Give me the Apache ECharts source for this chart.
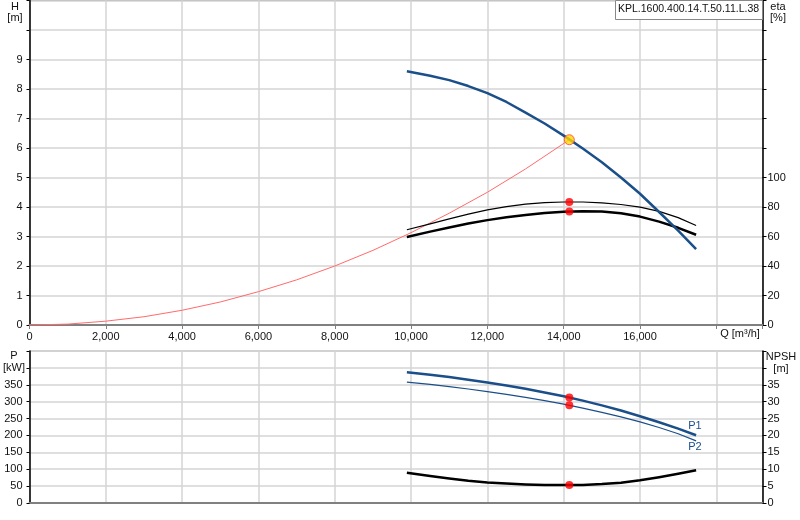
<!DOCTYPE html>
<html><head><meta charset="utf-8">
<script src="https://cdn.jsdelivr.net/npm/echarts@6/dist/echarts.min.js"></script>
<style>html,body{margin:0;padding:0;background:#fff}#c{width:800px;height:520px}</style>
</head><body><div id="c"></div>
<script>
// ---- data ----
const headCurve = [[9890,8.60],[10500,8.45],[11000,8.30],[11500,8.10],[12000,7.86],[12500,7.56],[13000,7.20],[13500,6.83],[14000,6.42],[14500,5.98],[15000,5.52],[15500,5.00],[16000,4.45],[16500,3.83],[17000,3.20],[17470,2.57]];
const systemCurve = [[0,0],[1000,0.03],[2000,0.13],[3000,0.28],[4000,0.50],[5000,0.78],[6000,1.13],[7000,1.53],[8000,2.00],[9000,2.53],[10000,3.13],[11000,3.79],[12000,4.50],[13000,5.29],[14147,6.28]];
const etaUpper = [[9890,64.6],[10500,68.6],[11000,72.0],[11500,75.2],[12000,78.0],[12500,80.3],[13000,82.0],[13500,83.0],[14000,83.4],[14500,83.4],[15000,82.8],[15500,81.7],[16000,79.9],[16500,77.0],[17000,72.8],[17470,67.5]];
const etaLower = [[9890,59.6],[10500,63.3],[11000,66.1],[11500,68.8],[12000,71.1],[12500,73.0],[13000,74.6],[13500,75.9],[14000,76.8],[14500,77.2],[15000,77.0],[15500,75.8],[16000,73.5],[16500,70.1],[17000,65.9],[17470,61.2]];
const p1Curve = [[9890,387],[10500,380],[11000,373],[11500,365],[12000,357],[12500,348],[13000,338],[13500,327],[14000,316],[14500,303],[15000,289],[15500,274],[16000,257],[16500,239],[17000,220],[17470,200.5]];
const p2Curve = [[9890,357.6],[10500,351],[11000,344.5],[11500,337.5],[12000,330],[12500,321.5],[13000,312.5],[13500,303],[14000,292.5],[14500,281],[15000,268.5],[15500,255],[16000,240],[16500,223.5],[17000,205],[17470,184]];
const npshCurve = [[9890,8.93],[10500,8.0],[11000,7.25],[11500,6.6],[12000,6.1],[12500,5.75],[13000,5.5],[13500,5.35],[14000,5.3],[14500,5.35],[15000,5.6],[15500,6.0],[16000,6.75],[16500,7.65],[17000,8.65],[17470,9.7]];
const dutyPoint = [[14147,6.28]];
const etaPoints = [[14147,83.4],[14147,77.0]];
const pPoints = [[14147,312.2],[14147,289.2]];
const npshPoints = [[14147,5.3]];
const pumpName = 'KPL.1600.400.14.T.50.11.L.38';
const qTicksMax = 16000;

const chart = echarts.init(document.getElementById('c'));
const FONT = 'Liberation Sans, Arial, sans-serif';
const txt = {fontFamily: FONT, fontSize: 11, color: '#111'};
const blue = '#1a4f8a';
const gridLine = {show: true, lineStyle: {color: '#d4d4d4', width: 1.5}};
const fmtQ = v => (v % 2000 === 0 && v <= qTicksMax) ? v.toLocaleString('en-US') : '';

const xBase = {
  type: 'value', min: 0, max: 19210, interval: 2000,
  axisLine: {show: true, onZero: false, lineStyle: {color: '#808080', width: 2}},
  axisTick: {show: true, length: 4, lineStyle: {color: '#808080'}},
  splitLine: gridLine
};
const yLeft = (max, interval, lim, gi) => ({
  type: 'value', gridIndex: gi, position: 'left', min: 0, max: max, interval: interval,
  axisLine: {show: true, onZero: false, lineStyle: {color: '#000', width: 1.5}},
  axisTick: {show: true, length: 3, lineStyle: {color: '#000'}},
  axisLabel: Object.assign({margin: 7, formatter: v => v <= lim ? String(v) : ''}, txt),
  splitLine: gridLine
});
const yRight = (max, interval, lim, gi) => ({
  type: 'value', gridIndex: gi, position: 'right', min: 0, max: max, interval: interval,
  axisLine: {show: true, onZero: false, lineStyle: {color: '#000', width: 1.5}},
  axisTick: {show: true, length: 4, lineStyle: {color: '#000'}},
  axisLabel: Object.assign({margin: 5, formatter: v => v <= lim ? String(v) : ''}, txt),
  splitLine: {show: false}
});
const line = (data, xi, yi, color, width, z) => ({
  type: 'line', data: data, xAxisIndex: xi, yAxisIndex: yi, showSymbol: false,
  smooth: false, silent: true, z: z || 3,
  lineStyle: {color: color, width: width, join: 'round', cap: 'butt'}
});
const dots = (data, xi, yi) => ({
  type: 'scatter', data: data, xAxisIndex: xi, yAxisIndex: yi, symbolSize: 8, z: 10,
  itemStyle: {color: '#ff0000'}, silent: true
});

chart.setOption({
  animation: false,
  textStyle: {fontFamily: FONT},
  grid: [
    {left: 29.5, right: 37.5, top: 0.5, height: 324.5, show: true, borderColor: '#999', borderWidth: 1},
    {left: 29.5, right: 37.5, top: 351, height: 152, show: true, borderColor: '#999', borderWidth: 1}
  ],
  xAxis: [
    Object.assign({}, xBase, {gridIndex: 0, axisLabel: Object.assign({margin: 6, formatter: fmtQ}, txt)}),
    Object.assign({}, xBase, {gridIndex: 1, axisTick: {show: false}, axisLabel: {show: false}})
  ],
  yAxis: [
    yLeft(11, 1, 9, 0),
    yRight(220, 20, 100, 0),
    yLeft(450, 50, 350, 1),
    yRight(45, 5, 35, 1)
  ],
  series: [
    line(systemCurve, 0, 0, '#ff6b6b', 1, 2),
    line(headCurve, 0, 0, blue, 2.5, 4),
    line(etaUpper, 0, 1, '#000', 1.2, 3),
    line(etaLower, 0, 1, '#000', 2.5, 3),
    dots(etaPoints, 0, 1),
    {type: 'scatter', data: dutyPoint, xAxisIndex: 0, yAxisIndex: 0, symbolSize: 10, z: 11, silent: true,
     itemStyle: {color: '#ffd700', borderColor: '#ff4040', borderWidth: 1}},
    line(p1Curve, 1, 2, blue, 2.5, 4),
    line(p2Curve, 1, 2, blue, 1.2, 4),
    line(npshCurve, 1, 3, '#000', 2.5, 3),
    dots(pPoints, 1, 2),
    dots(npshPoints, 1, 3)
  ],
  graphic: [
    {type: 'text', x: 15, y: 1, style: {text: 'H', font: '11px ' + FONT, fill: '#111', textAlign: 'center'}},
    {type: 'text', x: 15, y: 12, style: {text: '[m]', font: '11px ' + FONT, fill: '#111', textAlign: 'center'}},
    {type: 'text', x: 778, y: 1, style: {text: 'eta', font: '11px ' + FONT, fill: '#111', textAlign: 'center'}},
    {type: 'text', x: 778, y: 12, style: {text: '[%]', font: '11px ' + FONT, fill: '#111', textAlign: 'center'}},
    {type: 'text', x: 14, y: 350, style: {text: 'P', font: '11px ' + FONT, fill: '#111', textAlign: 'center'}},
    {type: 'text', x: 14, y: 362, style: {text: '[kW]', font: '11px ' + FONT, fill: '#111', textAlign: 'center'}},
    {type: 'text', x: 781, y: 351, style: {text: 'NPSH', font: '11px ' + FONT, fill: '#111', textAlign: 'center'}},
    {type: 'text', x: 781, y: 363, style: {text: '[m]', font: '11px ' + FONT, fill: '#111', textAlign: 'center'}},
    {type: 'text', x: 740, y: 328, style: {text: 'Q [m³/h]', font: '11px ' + FONT, fill: '#111', textAlign: 'center'}},
    {type: 'text', x: 695, y: 420, z: 20, style: {text: 'P1', font: '11px ' + FONT, fill: blue, textAlign: 'center'}},
    {type: 'text', x: 695, y: 441, z: 20, style: {text: 'P2', font: '11px ' + FONT, fill: blue, textAlign: 'center'}},
    {type: 'rect', z: 20, shape: {x: 615.5, y: 0.5, width: 147, height: 19},
     style: {fill: '#fff', stroke: '#888', lineWidth: 1}},
    {type: 'text', z: 21, x: 618, y: 4, style: {text: pumpName, font: '10.5px ' + FONT, fill: '#111'}}
  ]
});
</script></body></html>
